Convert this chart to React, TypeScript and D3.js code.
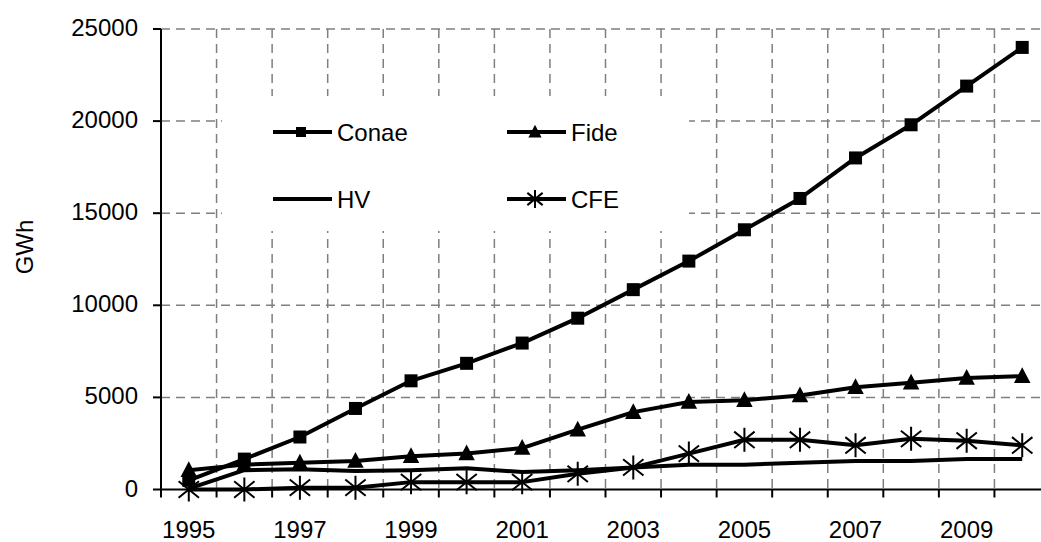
import React, { useEffect, useRef } from "react";
import * as d3 from "d3";

const years = [
  "1995", "1996", "1997", "1998", "1999", "2000", "2001", "2002",
  "2003", "2004", "2005", "2006", "2007", "2008", "2009", "2010",
];
const xTickLabels = ["1995", "1997", "1999", "2001", "2003", "2005", "2007", "2009"];
const yTicks = [0, 5000, 10000, 15000, 20000, 25000];

const conae = [500, 1650, 2850, 4400, 5900, 6850, 7950, 9300, 10850, 12400, 14100, 15800, 18000, 19800, 21900, 24000];
const fide = [1050, 1350, 1450, 1550, 1800, 1950, 2250, 3250, 4200, 4750, 4850, 5100, 5550, 5800, 6050, 6150];
const hv = [50, 1050, 1100, 1000, 1050, 1150, 950, 1050, 1200, 1350, 1350, 1450, 1550, 1550, 1650, 1650];
const cfe = [0, 0, 100, 100, 400, 400, 400, 850, 1200, 1950, 2700, 2700, 2400, 2750, 2650, 2400];

const seriesNames = ["Conae", "Fide", "HV", "CFE"];
const markers = ["square", "triangle", "none", "asterisk"];

const W = 1041;
const H = 542;
const FONT = "'Liberation Sans', Arial, sans-serif";

// draws one marker centred on 0,0 inside g
const drawMarker = (g: any, type: string, size: number) => {
  if (type === "square") {
    g.append("rect")
      .attr("x", -size / 2).attr("y", -size / 2)
      .attr("width", size).attr("height", size)
      .attr("fill", "#000");
  } else if (type === "triangle") {
    const h = size;
    g.append("path")
      .attr("d", `M0,${-h * 0.6}L${h * 0.55},${h * 0.45}L${-h * 0.55},${h * 0.45}Z`)
      .attr("fill", "#000");
  } else if (type === "asterisk") {
    const r = size / 2;
    const d = r * 0.85;
    g.append("path")
      .attr("d", `M0,${-r}L0,${r}M${-d},${-d * 0.8}L${d},${d * 0.8}M${-d},${d * 0.8}L${d},${-d * 0.8}`)
      .attr("stroke", "#000")
      .attr("stroke-width", 2)
      .attr("fill", "none");
  }
};

const renderChart = (svgEl: SVGSVGElement) => {
  const svg = d3.select(svgEl);
  svg.selectAll("*").remove();

  const left = 161;
  const right = 1050; // last category boundary falls just off the picture
  const top = 29;
  const bottom = 489.5;

  const x = d3.scaleBand().domain(years).range([left, right]).padding(0);
  const cx = (yr: string) => (x(yr) as number) + x.bandwidth() / 2;
  const y = d3.scaleLinear().domain([0, 25000]).range([bottom, top]);

  svg.append("rect").attr("width", W).attr("height", H).attr("fill", "#fff");

  // gridlines
  const grid = svg.append("g")
    .attr("stroke", "#7f7f7f")
    .attr("stroke-width", 1.5)
    .attr("stroke-dasharray", "9,6");
  grid.selectAll(".hg").data(yTicks.filter(d => d > 0)).enter().append("line")
    .attr("x1", left).attr("x2", W)
    .attr("y1", d => y(d)).attr("y2", d => y(d));
  const bounds = years.map(yr => x(yr) as number).concat([right]).filter(v => v > left);
  grid.selectAll(".vg").data(bounds).enter().append("line")
    .attr("x1", d => d).attr("x2", d => d)
    .attr("y1", top).attr("y2", bottom);

  // legend box covers the grid
  svg.append("rect")
    .attr("x", 222).attr("y", 96).attr("width", 467).attr("height", 135)
    .attr("fill", "#fff");

  // axes
  const axes = svg.append("g").attr("stroke", "#000").attr("stroke-width", 2);
  axes.append("line").attr("x1", left).attr("x2", left).attr("y1", top).attr("y2", bottom + 1);
  axes.append("line").attr("x1", left - 1).attr("x2", W).attr("y1", bottom).attr("y2", bottom);
  axes.selectAll(".yt").data(yTicks).enter().append("line")
    .attr("x1", left - 8).attr("x2", left)
    .attr("y1", d => y(d)).attr("y2", d => y(d));
  axes.selectAll(".xt").data(years.map(yr => x(yr) as number).concat([right])).enter().append("line")
    .attr("x1", d => d).attr("x2", d => d)
    .attr("y1", bottom).attr("y2", bottom + 8);

  // tick labels
  svg.append("g").selectAll("text").data(yTicks).enter().append("text")
    .attr("x", 138).attr("y", d => y(d) - 1.5)
    .attr("text-anchor", "end").attr("dominant-baseline", "central")
    .attr("font-family", FONT).attr("font-size", 24)
    .text(d => String(d));

  svg.append("g").selectAll("text").data(xTickLabels).enter().append("text")
    .attr("x", d => cx(d)).attr("y", 529)
    .attr("text-anchor", "middle").attr("dominant-baseline", "central")
    .attr("font-family", FONT).attr("font-size", 24)
    .text(d => d);

  svg.append("text")
    .attr("transform", `translate(33, 247) rotate(-90)`)
    .attr("text-anchor", "middle")
    .attr("font-family", FONT).attr("font-size", 24)
    .text("GWh");

  // series
  const allSeries = [conae, fide, hv, cfe];
  const line = d3.line<number>()
    .x((_, i) => cx(years[i]))
    .y(d => y(d));

  allSeries.forEach((vals) => {
    svg.append("path")
      .attr("d", line(vals))
      .attr("fill", "none")
      .attr("stroke", "#000")
      .attr("stroke-width", 4)
      .attr("stroke-linejoin", "round");
  });
  allSeries.forEach((vals, s) => {
    if (markers[s] === "none") return;
    vals.forEach((v, i) => {
      const g = svg.append("g").attr("transform", `translate(${cx(years[i])},${y(v)})`);
      drawMarker(g, markers[s], markers[s] === "asterisk" ? 24 : markers[s] === "triangle" ? 15 : 13);
    });
  });

  // legend
  const legendPos = [
    { x: 273, y: 132 }, { x: 507, y: 132 },
    { x: 273, y: 199 }, { x: 507, y: 199 },
  ];
  seriesNames.forEach((name, s) => {
    const p = legendPos[s];
    svg.append("line")
      .attr("x1", p.x).attr("x2", p.x + 59)
      .attr("y1", p.y).attr("y2", p.y)
      .attr("stroke", "#000").attr("stroke-width", 4);
    const g = svg.append("g").attr("transform", `translate(${p.x + 28},${p.y})`);
    drawMarker(g, markers[s], markers[s] === "asterisk" ? 18 : markers[s] === "triangle" ? 12 : 10);
    svg.append("text")
      .attr("x", p.x + 64).attr("y", p.y)
      .attr("dominant-baseline", "central")
      .attr("font-family", FONT).attr("font-size", 24)
      .text(name);
  });
};

const App = () => {
  const ref = useRef<SVGSVGElement>(null);
  useEffect(() => {
    if (ref.current) renderChart(ref.current);
  });
  return (
    <svg ref={ref} width={W} height={H} style={{ position: "absolute", left: 0, top: 0 }} />
  );
};

export default App;
